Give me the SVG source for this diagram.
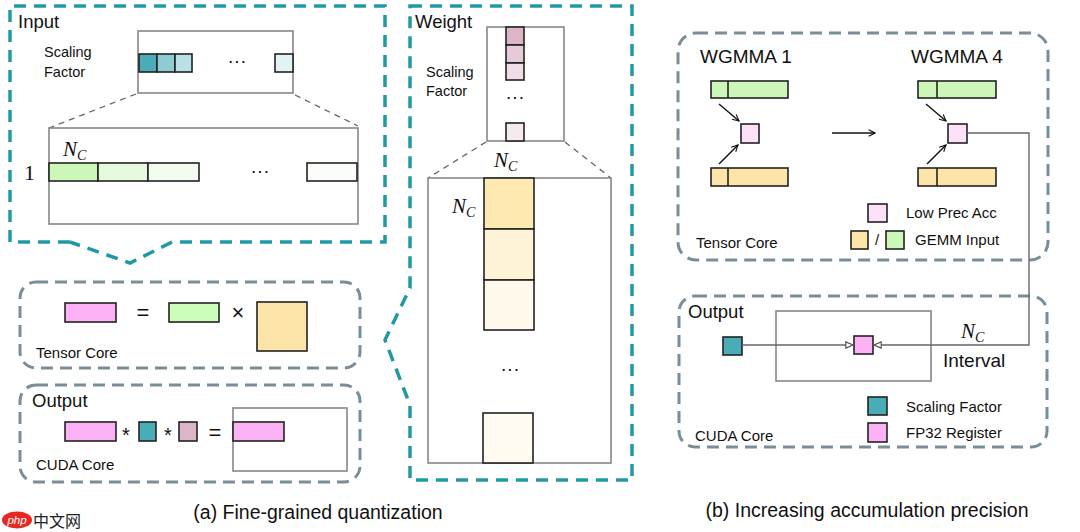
<svg xmlns="http://www.w3.org/2000/svg" width="1080" height="532" viewBox="0 0 1080 532">
<defs>
<style>
.sans{font-family:"Liberation Sans",Arial,sans-serif;fill:#111}
.math{font-family:"Liberation Serif","Times New Roman",serif;font-style:italic;fill:#111}
.serif{font-family:"Liberation Serif","Times New Roman",serif;fill:#111}
.teal{fill:none;stroke:#1f9aa4;stroke-width:3.5;stroke-dasharray:12 8}
.gray{fill:none;stroke:#7b8d96;stroke-width:3;stroke-dasharray:12 7}
.frame{fill:#fff;stroke:#888;stroke-width:1.6}
.cell{stroke:#222;stroke-width:1.6}
.zoom{fill:none;stroke:#666;stroke-width:1.3;stroke-dasharray:6 5}
.conn{fill:none;stroke:#666;stroke-width:1.4}
.arr{fill:none;stroke:#111;stroke-width:1.4}
.title{font-size:18.5px}
.small{font-size:15px}
.cap{font-size:19.5px}
</style>
<marker id="vhead" viewBox="0 0 10 10" refX="9" refY="5" markerWidth="8" markerHeight="8" orient="auto" markerUnits="userSpaceOnUse">
<path d="M1,1 L9,5 L1,9" fill="none" stroke="#111" stroke-width="1.4"/>
</marker>
<marker id="tri" viewBox="0 0 10 10" refX="9" refY="5" markerWidth="9" markerHeight="9" orient="auto" markerUnits="userSpaceOnUse">
<path d="M1,1.5 L9,5 L1,8.5 Z" fill="#fff" stroke="#555" stroke-width="1.3"/>
</marker>
</defs>
<rect width="1080" height="532" fill="#fff"/>

<g id="input-panel">
<path class="teal" d="M70,242 L10,242 L10,6 L385,6 L385,242 L172,242 L130,263 L70,242"/>
<text class="sans title" x="18" y="28">Input</text>
<rect class="frame" x="138" y="31" width="155" height="62"/>
<text class="sans" x="44" y="57" font-size="14.5">Scaling</text>
<text class="sans" x="44" y="77" font-size="14.5">Factor</text>
<rect class="cell" x="139" y="54" width="18" height="18" fill="#4aacb6"/>
<rect class="cell" x="157" y="54" width="18" height="18" fill="#8dccd3"/>
<rect class="cell" x="175" y="54" width="17" height="18" fill="#b9e1e5"/>
<rect class="cell" x="275" y="54" width="18" height="18" fill="#e3f2f4"/>
<text class="sans" x="237" y="67" font-size="19" text-anchor="middle">···</text>
<line class="zoom" x1="136" y1="94" x2="49" y2="128"/>
<line class="zoom" x1="295" y1="95" x2="358" y2="126"/>
<rect class="frame" x="49" y="128" width="309" height="96"/>
<text class="math" x="63" y="156" font-size="21">N<tspan font-size="14" dy="4">C</tspan></text>
<text class="serif" x="24" y="180" font-size="22">1</text>
<rect class="cell" x="49" y="163" width="49" height="18" fill="#cdf7b9"/>
<rect class="cell" x="98" y="163" width="50" height="18" fill="#e6f9dc"/>
<rect class="cell" x="148" y="163" width="51" height="18" fill="#f3fcee"/>
<rect class="cell" x="307" y="163" width="50" height="18" fill="#fbfdf9"/>
<text class="sans" x="260" y="177" font-size="19" text-anchor="middle">···</text>
</g>

<g id="weight-panel">
<path class="teal" d="M410,6 L632,6 L632,480 L410,480 L410,405 L385,340 L410,288 Z"/>
<text class="sans title" x="415" y="28">Weight</text>
<rect class="frame" x="487" y="27" width="77" height="114"/>
<text class="sans" x="426" y="77" font-size="14.5">Scaling</text>
<text class="sans" x="426" y="96" font-size="14.5">Factor</text>
<rect class="cell" x="506" y="27" width="18" height="18" fill="#dcb5c9"/>
<rect class="cell" x="506" y="45" width="18" height="18" fill="#e8c9d9"/>
<rect class="cell" x="506" y="63" width="18" height="17" fill="#f1dde7"/>
<rect class="cell" x="506" y="123" width="18" height="18" fill="#f6e9ef"/>
<text class="sans" x="515" y="103" font-size="19" text-anchor="middle">···</text>
<line class="zoom" x1="486" y1="142" x2="428" y2="178"/>
<line class="zoom" x1="565" y1="142" x2="611" y2="178"/>
<text class="math" x="494" y="167" font-size="21">N<tspan font-size="14" dy="4">C</tspan></text>
<rect class="frame" x="428" y="178" width="183" height="285"/>
<text class="math" x="452" y="213" font-size="21">N<tspan font-size="14" dy="4">C</tspan></text>
<rect class="cell" x="484" y="178" width="50" height="51" fill="#fde9b1"/>
<rect class="cell" x="484" y="229" width="50" height="51" fill="#fef3d7"/>
<rect class="cell" x="484" y="280" width="50" height="50" fill="#fff9ec"/>
<rect class="cell" x="483" y="413" width="50" height="50" fill="#fffbf1"/>
<text class="sans" x="510" y="375" font-size="19" text-anchor="middle">···</text>
</g>

<g id="tensor-core-a">
<rect class="gray" x="20" y="282" width="340" height="86" rx="16"/>
<rect class="cell" x="65" y="303" width="51" height="19" fill="#fdb2f6"/>
<text class="sans" x="143" y="320" font-size="22" text-anchor="middle">=</text>
<rect class="cell" x="169" y="303" width="50" height="19" fill="#cdfdbb"/>
<text class="sans" x="238" y="320" font-size="22" text-anchor="middle">×</text>
<rect class="cell" x="257" y="302" width="50" height="49" fill="#fde4a9"/>
<text class="sans small" x="36" y="358">Tensor Core</text>
</g>

<g id="cuda-core-a">
<rect class="gray" x="20" y="385" width="340" height="97" rx="16"/>
<text class="sans title" x="32" y="407">Output</text>
<rect class="cell" x="65" y="422" width="51" height="19" fill="#fdb2f6"/>
<text class="sans" x="126" y="442" font-size="20" text-anchor="middle">*</text>
<rect class="cell" x="139" y="422" width="17" height="19" fill="#4aacb6"/>
<text class="sans" x="168" y="442" font-size="20" text-anchor="middle">*</text>
<rect class="cell" x="179" y="422" width="18" height="19" fill="#dcb5c9"/>
<text class="sans" x="215" y="440" font-size="22" text-anchor="middle">=</text>
<rect class="frame" x="233" y="408" width="114" height="63"/>
<rect class="cell" x="233" y="422" width="51" height="19" fill="#fdb2f6"/>
<text class="sans small" x="36" y="470">CUDA Core</text>
</g>

<g id="tensor-core-b">
<rect class="gray" x="678" y="33" width="370" height="227" rx="18"/>
<text class="sans" x="700" y="63" font-size="19">WGMMA 1</text>
<text class="sans" x="911" y="63" font-size="19">WGMMA 4</text>
<rect class="cell" x="711" y="81" width="77" height="17" fill="#cdf7b9"/>
<line class="cell" x1="728" y1="81" x2="728" y2="98"/>
<rect class="cell" x="741" y="124" width="18" height="19" fill="#fde1f9"/>
<rect class="cell" x="711" y="168" width="77" height="18" fill="#fde4a9"/>
<line class="cell" x1="728" y1="168" x2="728" y2="186"/>
<rect class="cell" x="918" y="81" width="78" height="17" fill="#cdf7b9"/>
<line class="cell" x1="937" y1="81" x2="937" y2="98"/>
<rect class="cell" x="948" y="124" width="19" height="19" fill="#fde1f9"/>
<rect class="cell" x="918" y="168" width="78" height="18" fill="#fde4a9"/>
<line class="cell" x1="937" y1="168" x2="937" y2="186"/>
<rect class="cell" x="868" y="204" width="19" height="18" fill="#fde1f9"/>
<text class="sans small" x="906" y="218">Low Prec Acc</text>
<rect class="cell" x="851" y="231" width="17" height="18" fill="#fde4a9"/>
<text class="sans small" x="877" y="245" text-anchor="middle">/</text>
<rect class="cell" x="886" y="231" width="18" height="18" fill="#cdf7b9"/>
<text class="sans small" x="915" y="245">GEMM Input</text>
<text class="sans small" x="696" y="248">Tensor Core</text>
</g>

<g id="cuda-core-b">
<rect class="gray" x="679" y="296" width="368" height="151" rx="16"/>
<text class="sans title" x="688" y="318">Output</text>
<rect class="frame" x="776" y="311" width="155" height="70" fill="none"/>
<rect class="cell" x="723" y="337" width="19" height="18" fill="#4aacb6"/>
<rect class="cell" x="854" y="336" width="19" height="18" fill="#fdb2f6"/>
<text class="math" x="961" y="338" font-size="21">N<tspan font-size="14" dy="4">C</tspan></text>
<text class="sans" x="943" y="367" font-size="19">Interval</text>
<rect class="cell" x="868" y="397" width="19" height="18" fill="#4aacb6"/>
<text class="sans small" x="906" y="412">Scaling Factor</text>
<rect class="cell" x="868" y="423" width="19" height="19" fill="#fdb2f6"/>
<text class="sans small" x="906" y="438">FP32 Register</text>
<text class="sans small" x="695" y="441">CUDA Core</text>
</g>

<g id="connectors">
<line class="arr" x1="719" y1="104" x2="739" y2="121" marker-end="url(#vhead)"/>
<line class="arr" x1="719" y1="164" x2="738" y2="145" marker-end="url(#vhead)"/>
<line class="arr" x1="832" y1="133" x2="875" y2="133" marker-end="url(#vhead)"/>
<line class="arr" x1="926" y1="104" x2="946" y2="121" marker-end="url(#vhead)"/>
<line class="arr" x1="927" y1="164" x2="946" y2="145" marker-end="url(#vhead)"/>
<line class="conn" x1="742" y1="345" x2="853" y2="345" marker-end="url(#tri)"/>
<path class="conn" d="M967,133 L1029,133 L1029,345 L874,345" marker-end="url(#tri)"/>
</g>

<g id="captions">
<text class="sans cap" x="318" y="519" text-anchor="middle">(a) Fine-grained quantization</text>
<text class="sans cap" x="867" y="517" text-anchor="middle">(b) Increasing accumulation precision</text>
</g>

<g id="watermark">
<ellipse cx="17" cy="520" rx="15" ry="8.5" fill="#e8281f"/>
<text x="17" y="524" font-size="11.5" font-family="Liberation Sans,Arial,sans-serif" font-style="italic" fill="#fff" text-anchor="middle">php</text>
<text x="33" y="527" font-size="16" font-family="Noto Sans CJK SC,sans-serif" fill="#222">中文网</text>
</g>
</svg>
